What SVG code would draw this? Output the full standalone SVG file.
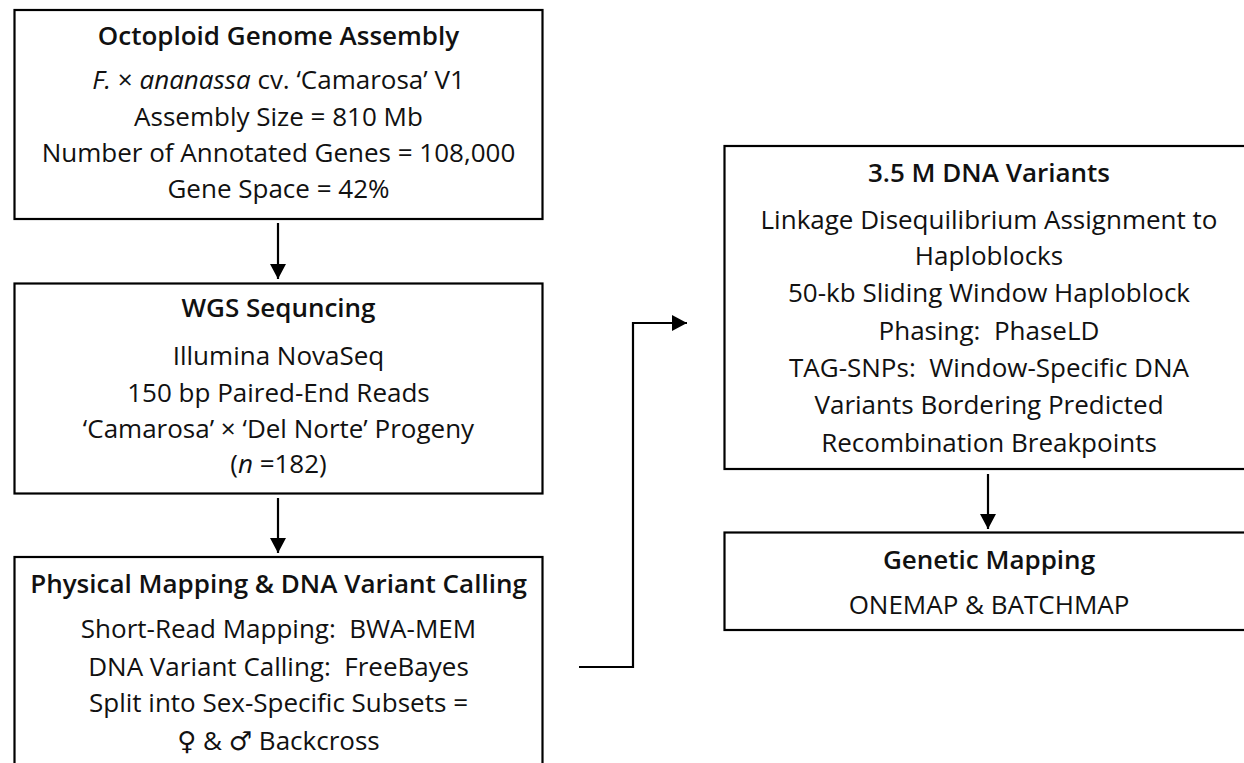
<svg xmlns="http://www.w3.org/2000/svg" width="1244" height="763" viewBox="0 0 1244 763">
<style>
  .box { fill: #ffffff; stroke: #000000; stroke-width: 2.2; }
  .t { font-family: "Open Sans", "DejaVu Sans", sans-serif; font-size: 26px; fill: #111111; text-anchor: middle; }
  .h { font-weight: 600; }
  .i { font-style: italic; }
  .c { fill: none; stroke: #000000; stroke-width: 2.2; }
</style>
<defs>
  <marker id="ah" markerUnits="userSpaceOnUse" markerWidth="16" markerHeight="16" viewBox="0 0 16 16" refX="15" refY="8" orient="auto">
    <path d="M0,0 L15,8 L0,16 Z" fill="#000000"/>
  </marker>
</defs>
<rect width="1244" height="763" fill="#ffffff"/>

<g id="node-assembly">
  <rect class="box" x="14.5" y="10" width="528" height="209"/>
  <text class="t h" x="278.5" y="45">Octoploid Genome Assembly</text>
  <text class="t" x="278.5" y="89"><tspan class="i">F.</tspan> × <tspan class="i">ananassa</tspan> cv. ‘Camarosa’ V1</text>
  <text class="t" x="278.5" y="126">Assembly Size = 810 Mb</text>
  <text class="t" x="278.5" y="161.5">Number of Annotated Genes = 108,000</text>
  <text class="t" x="278.5" y="197.5">Gene Space = 42%</text>
</g>

<g id="node-wgs">
  <rect class="box" x="14.5" y="283.5" width="528" height="210"/>
  <text class="t h" x="278.5" y="317">WGS Sequncing</text>
  <text class="t" x="278.5" y="365">Illumina NovaSeq</text>
  <text class="t" x="278.5" y="401.5">150 bp Paired-End Reads</text>
  <text class="t" x="278.5" y="437.5">‘Camarosa’ × ‘Del Norte’ Progeny</text>
  <text class="t" x="278.5" y="473">(<tspan class="i">n</tspan> =182)</text>
</g>

<g id="node-mapping">
  <rect class="box" x="14.5" y="557" width="528" height="240"/>
  <text class="t h" x="278.5" y="593">Physical Mapping &amp; DNA Variant Calling</text>
  <text class="t" x="278.5" y="638">Short-Read Mapping:&#160; BWA-MEM</text>
  <text class="t" x="278.5" y="675.5">DNA Variant Calling:&#160; FreeBayes</text>
  <text class="t" x="278.5" y="712">Split into Sex-Specific Subsets =</text>
  <text class="t" x="278.5" y="749.5">♀ &amp; ♂ Backcross</text>
</g>

<g id="node-variants">
  <rect class="box" x="724.5" y="146" width="530" height="323"/>
  <text class="t h" x="989" y="181.5">3.5 M DNA Variants</text>
  <text class="t" x="989" y="228.5">Linkage Disequilibrium Assignment to</text>
  <text class="t" x="989" y="265">Haploblocks</text>
  <text class="t" x="989" y="302">50-kb Sliding Window Haploblock</text>
  <text class="t" x="989" y="340">Phasing:&#160; PhaseLD</text>
  <text class="t" x="989" y="376.5">TAG-SNPs:&#160; Window-Specific DNA</text>
  <text class="t" x="989" y="413.5">Variants Bordering Predicted</text>
  <text class="t" x="989" y="451.5">Recombination Breakpoints</text>
</g>

<g id="node-genetic">
  <rect class="box" x="724.5" y="532.5" width="530" height="97.5"/>
  <text class="t h" x="989" y="569">Genetic Mapping</text>
  <text class="t" x="989" y="614">ONEMAP &amp; BATCHMAP</text>
</g>

<g id="connectors">
  <line class="c" x1="278" y1="223" x2="278" y2="279" marker-end="url(#ah)"/>
  <line class="c" x1="278" y1="498" x2="278" y2="553" marker-end="url(#ah)"/>
  <polyline class="c" points="579,667 633,667 633,323 687,323" marker-end="url(#ah)"/>
  <line class="c" x1="988" y1="474" x2="988" y2="529" marker-end="url(#ah)"/>
</g>
</svg>
